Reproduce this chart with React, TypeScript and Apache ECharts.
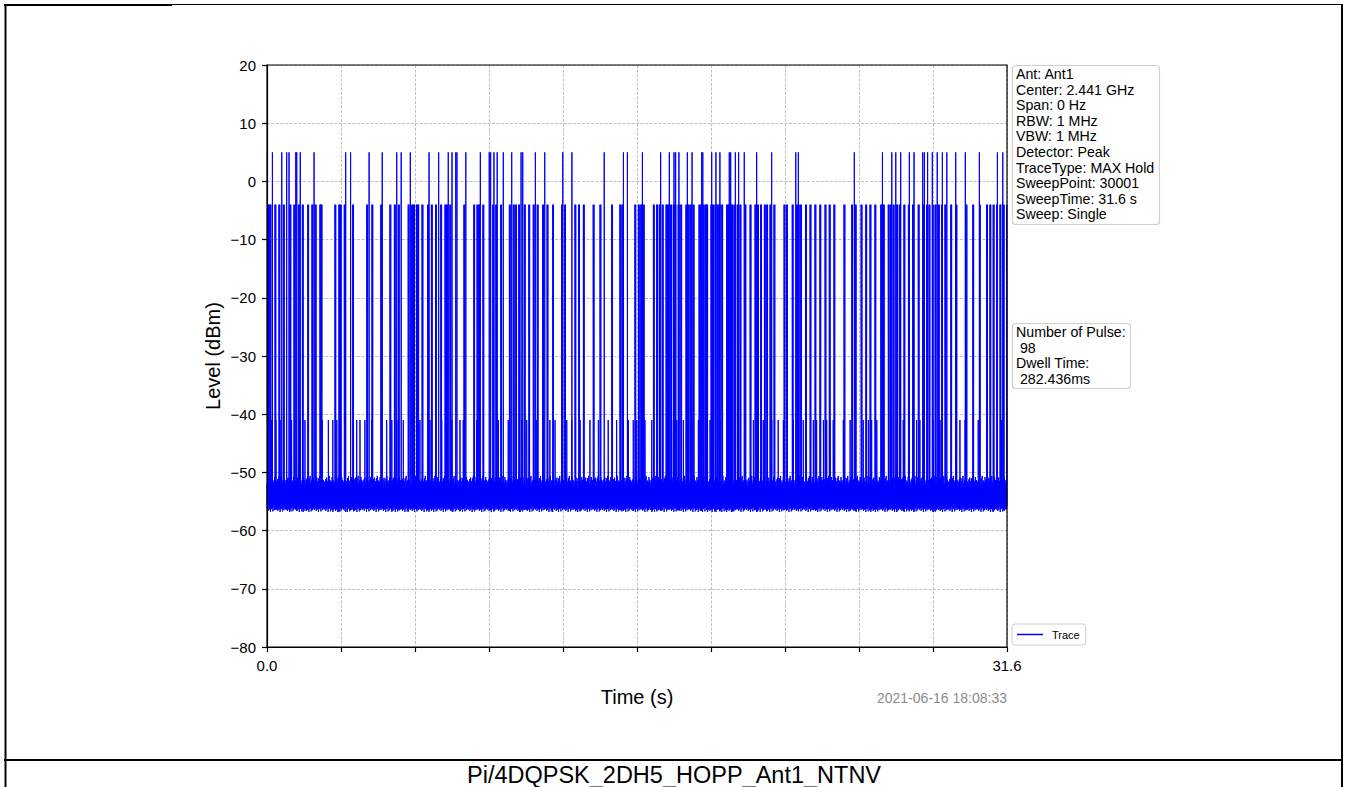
import React, { useEffect, useRef } from "react";
import * as echarts from "echarts";

// ---------- chart values ----------
const SWEEP_TIME = 31.6; // s
const X_TICK_STEP = 3.16;
const Y_MIN = -80;
const Y_MAX = 20;
const Y_STEP = 10;
const xEndLabels = ["0.0", "31.6"];

const infoLines = [
  "Ant: Ant1",
  "Center: 2.441 GHz",
  "Span: 0 Hz",
  "RBW: 1 MHz",
  "VBW: 1 MHz",
  "Detector: Peak",
  "TraceType: MAX Hold",
  "SweepPoint: 30001",
  "SweepTime: 31.6 s",
  "Sweep: Single",
];
const pulseInfoLines = ["Number of Pulse:", " 98", "Dwell Time:", " 282.436ms"];
const timestamp = "2021-06-16 18:08:33";
const caption = "Pi/4DQPSK_2DH5_HOPP_Ant1_NTNV";
const xTitle = "Time (s)";
const yTitle = "Level (dBm)";
const seriesName = "Trace";

const noiseLevels = [
  -51.8, -56.2, -52.4, -55.8, -51.2, -56.6, -53.0, -55.1, -50.9, -56.4, -52.1,
  -56.0, -51.5, -55.6, -52.8, -56.8, -51.0, -55.9, -52.5, -56.3, -50.6, -55.4,
  -51.9, -56.1, -52.2, -56.7, -51.4, -55.7, -53.2, -56.0, -51.7, -56.5, -50.8,
  -55.3, -52.0, -56.2, -51.3, -55.9, -52.6, -56.4, -51.6,
];
const NOISE_STEP = 0.01; // s between drawn noise samples

const peakLevel = 5;
const highLevel = -4;
const lowLevel = -41;

// pulses reaching about +5 dBm (s)
const peakTimes = [
  0.23, 0.63, 0.84, 0.94, 1.23, 1.27, 1.42, 2.01, 3.36, 3.57, 4.36, 4.92, 5.54,
  5.73, 6.12, 6.92, 7.33, 7.74, 7.9, 8.06, 8.11, 8.49, 9.11, 9.49, 9.55, 9.69,
  9.83, 10.09, 10.45, 10.85, 10.92, 11.46, 11.86, 12.63, 13.02, 14.4, 15.22,
  15.39, 16.03, 16.81, 17.18, 17.38, 17.45, 17.59, 17.95, 18.15, 18.56, 18.61,
  18.99, 19.17, 19.34, 19.74, 19.8, 20.0, 20.14, 20.38, 20.91, 21.55, 22.58,
  22.69, 25.08, 26.28, 26.68, 26.85, 27.06, 27.43, 27.63, 28.0, 28.07, 28.21,
  28.41, 28.62, 28.84, 29.03, 29.41, 29.82, 30.42, 31.19, 31.42,
];

// pulses reaching about -4 dBm (s)
const highTimes = [
  0.06, 0.13, 0.34, 0.51, 0.7, 0.98, 1.15, 1.34, 1.51, 1.74, 1.92, 2.06, 2.26,
  2.31, 2.9, 3.07, 3.13, 3.3, 3.66, 4.26, 4.48, 4.86, 5.25, 5.44, 5.61, 6.03,
  6.18, 6.26, 6.38, 6.44, 6.62, 6.86, 7.02, 7.2, 7.42, 7.6, 7.67, 7.81, 8.41,
  8.83, 8.97, 9.04, 9.22, 9.64, 9.77, 9.98, 10.35, 10.52, 10.62, 10.75, 10.99,
  11.18, 11.37, 11.54, 11.77, 11.96, 12.2, 12.58, 12.71, 13.15, 13.31, 13.51,
  13.93, 14.22, 14.72, 15.07, 15.16, 15.71, 15.86, 15.96, 16.07, 16.5, 16.64,
  16.75, 16.88, 17.04, 17.11, 17.24, 17.35, 17.42, 17.56, 17.67, 17.89, 17.99,
  18.09, 18.2, 18.45, 18.52, 18.63, 18.72, 18.78, 18.96, 19.03, 19.13, 19.23,
  19.31, 19.42, 19.63, 19.7, 19.77, 19.84, 19.94, 20.08, 20.2, 20.41, 20.63,
  20.84, 20.95, 21.08, 21.24, 21.34, 21.48, 21.65, 22.08, 22.19, 22.43, 22.62,
  22.69, 22.79, 23.0, 23.19, 23.4, 23.61, 23.83, 24.01, 24.21, 24.64, 24.97,
  25.12, 25.37, 25.57, 25.75, 25.96, 26.21, 26.32, 26.53, 26.63, 26.74, 26.89,
  27.0, 27.2, 27.39, 27.57, 27.81, 28.03, 28.17, 28.27, 28.41, 28.53, 28.67,
  28.81, 28.95, 29.2, 29.42, 29.85, 30.14, 30.42, 30.73, 30.87, 31.01, 31.16,
  31.3, 31.44, 31.59,
];

// pulses reaching about -41 dBm (s)
const lowTimes = [
  0.2, 0.38, 0.56, 1.05, 1.41, 1.62, 2.36, 2.62, 2.81, 2.98, 3.83, 3.97, 4.18,
  4.47, 5.11, 5.33, 5.54, 5.82, 6.03, 6.39, 6.53, 6.96, 7.46, 7.67, 7.89, 8.24,
  8.38, 8.95, 9.88, 10.3, 10.52, 10.88, 11.09, 11.37, 11.52, 12.08, 12.3, 12.8,
  13.01, 13.37, 13.79, 14.15, 14.57, 14.93, 15.22, 15.43, 15.64, 15.79, 16.14,
  16.43, 16.78, 17.07, 17.28, 17.5, 17.78, 18.14, 18.42, 18.92, 19.06, 19.34,
  19.77, 20.13, 20.41, 20.77, 20.98, 21.19, 21.34, 21.55, 21.83, 22.05, 22.47,
  22.9, 23.33, 23.47, 23.61, 23.76, 23.9, 24.04, 24.18, 24.61, 24.9, 25.46,
  25.68, 25.82, 26.04, 26.32, 26.74, 27.17, 27.74, 27.88, 28.45, 28.74, 29.59,
  29.81, 30.16, 30.37, 30.73, 31.01, 31.16, 31.37,
];

// ---------- build the trace from the arrays ----------
function buildTrace(): [number, number][] {
  const pts: [number, number][] = [];
  const n = Math.round(SWEEP_TIME / NOISE_STEP);
  for (let i = 0; i <= n; i++) {
    pts.push([+(i * NOISE_STEP).toFixed(4), noiseLevels[i % noiseLevels.length]]);
  }
  const addPulses = (times: number[], level: number, width: number) => {
    times.forEach((t, k) => {
      const a = noiseLevels[k % noiseLevels.length];
      const b = noiseLevels[(k + 7) % noiseLevels.length];
      pts.push([t, a], [t + 0.0002, level], [t + width, level], [t + width + 0.0002, b]);
    });
  };
  addPulses(lowTimes, lowLevel, 0.004);
  addPulses(highTimes, highLevel, 0.035);
  addPulses(peakTimes, peakLevel, 0.002);
  pts.sort((p, q) => p[0] - q[0]);
  return pts.filter((p) => p[0] >= 0 && p[0] <= SWEEP_TIME);
}

const FONT = "Liberation Sans, Arial, Helvetica, sans-serif";
const minus = (v: number) => String(v).replace("-", "\u2212");

export default function App() {
  const ref = useRef<HTMLDivElement>(null);

  useEffect(() => {
    document.body.style.margin = "0";
    if (!ref.current) return;
    const chart = echarts.init(ref.current, undefined, { renderer: "svg" });

    const gx = 267;
    const gy = 65;
    const gw = 740;
    const gh = 582;

    const graphics: any[] = [
      // document frame
      { type: "line", shape: { x1: 4, y1: 5, x2: 172, y2: 5 }, style: { stroke: "#000", lineWidth: 2 } },
      { type: "line", shape: { x1: 172, y1: 4.5, x2: 1343, y2: 4.5 }, style: { stroke: "#000", lineWidth: 1 } },
      { type: "line", shape: { x1: 5.5, y1: 4, x2: 5.5, y2: 787 }, style: { stroke: "#000", lineWidth: 2 } },
      { type: "line", shape: { x1: 1342, y1: 4, x2: 1342, y2: 787 }, style: { stroke: "#000", lineWidth: 2 } },
      { type: "line", shape: { x1: 4, y1: 760, x2: 1343, y2: 760 }, style: { stroke: "#000", lineWidth: 2 } },
      {
        type: "text",
        x: 674,
        y: 775,
        style: { text: caption, font: `23.5px ${FONT}`, fill: "#000", align: "center", verticalAlign: "middle" },
      },
      // solid axes frame on top of the dashed grid
      {
        type: "rect",
        z: 100,
        shape: { x: gx, y: gy, width: gw, height: gh },
        style: { fill: "none", stroke: "#000", lineWidth: 1.2 },
      },
      // axis titles
      {
        type: "text",
        x: 213,
        y: 356,
        rotation: Math.PI / 2,
        style: { text: yTitle, font: `20px ${FONT}`, fill: "#000", align: "center", verticalAlign: "middle" },
      },
      {
        type: "text",
        x: 637,
        y: 697,
        style: { text: xTitle, font: `20px ${FONT}`, fill: "#000", align: "center", verticalAlign: "middle" },
      },
      {
        type: "text",
        x: 1007,
        y: 698,
        style: { text: timestamp, font: `14px ${FONT}`, fill: "#8c8c8c", align: "right", verticalAlign: "middle" },
      },
      // info box
      {
        type: "rect",
        shape: { x: 1012.5, y: 65.5, width: 147, height: 159, r: 3 },
        style: { fill: "#fff", stroke: "#cfcfcf", lineWidth: 1.2 },
      },
      ...infoLines.map((t, i) => ({
        type: "text",
        x: 1016,
        y: 74 + i * 15.6,
        style: { text: t, font: `14.2px ${FONT}`, fill: "#000", align: "left", verticalAlign: "middle" },
      })),
      {
        type: "rect",
        shape: { x: 1012.5, y: 323.5, width: 118, height: 65, r: 3 },
        style: { fill: "#fff", stroke: "#cfcfcf", lineWidth: 1.2 },
      },
      ...pulseInfoLines.map((t, i) => ({
        type: "text",
        x: 1016,
        y: 332 + i * 15.7,
        style: { text: t, font: `14.2px ${FONT}`, fill: "#000", align: "left", verticalAlign: "middle" },
      })),
    ];

    chart.setOption({
      animation: false,
      backgroundColor: "#fff",
      grid: {
        left: gx,
        top: gy,
        width: gw,
        height: gh,
        show: false,
      },
      legend: {
        left: 1012,
        top: 624,
        orient: "vertical",
        data: [seriesName],
        icon: "rect",
        backgroundColor: "#fff",
        borderColor: "#cfcfcf",
        borderWidth: 1,
        borderRadius: 3,
        padding: [5, 6, 5, 5],
        itemWidth: 26,
        itemHeight: 1.5,
        itemGap: 4,
        textStyle: { fontFamily: FONT, fontSize: 11, color: "#000", padding: [0, 0, 0, 4] },
      },
      xAxis: {
        type: "value",
        min: 0,
        max: SWEEP_TIME,
        interval: X_TICK_STEP,
        axisLine: { show: true, onZero: false, lineStyle: { color: "#000", width: 1.2 } },
        axisTick: { show: true, length: 5, lineStyle: { color: "#000", width: 1.2 } },
        axisLabel: {
          show: true,
          margin: 11,
          fontFamily: FONT,
          fontSize: 15,
          color: "#000",
          showMinLabel: true,
          showMaxLabel: true,
          formatter: (v: number) =>
            Math.abs(v) < 1e-6 ? xEndLabels[0] : Math.abs(v - SWEEP_TIME) < 1e-6 ? xEndLabels[1] : "",
        },
        splitLine: { show: true, lineStyle: { color: "#b0b0b0", width: 0.8, type: [3, 1.5] } },
      },
      yAxis: {
        type: "value",
        min: Y_MIN,
        max: Y_MAX,
        interval: Y_STEP,
        axisLine: { show: true, onZero: false, lineStyle: { color: "#000", width: 1.2 } },
        axisTick: { show: true, length: 5, lineStyle: { color: "#000", width: 1.2 } },
        axisLabel: {
          margin: 11,
          fontFamily: FONT,
          fontSize: 15,
          color: "#000",
          formatter: (v: number) => minus(v),
        },
        splitLine: { show: true, lineStyle: { color: "#b0b0b0", width: 0.8, type: [3, 1.5] } },
      },
      series: [
        {
          name: seriesName,
          type: "line",
          data: buildTrace(),
          symbol: "none",
          showSymbol: false,
          progressive: 0,
          lineStyle: { color: "#0000ff", width: 1 },
          itemStyle: { color: "#0000ff" },
          clip: true,
        },
      ],
      graphic: graphics,
    });

    return () => chart.dispose();
  }, []);

  return <div ref={ref} style={{ width: 1346, height: 787 }} />;
}
